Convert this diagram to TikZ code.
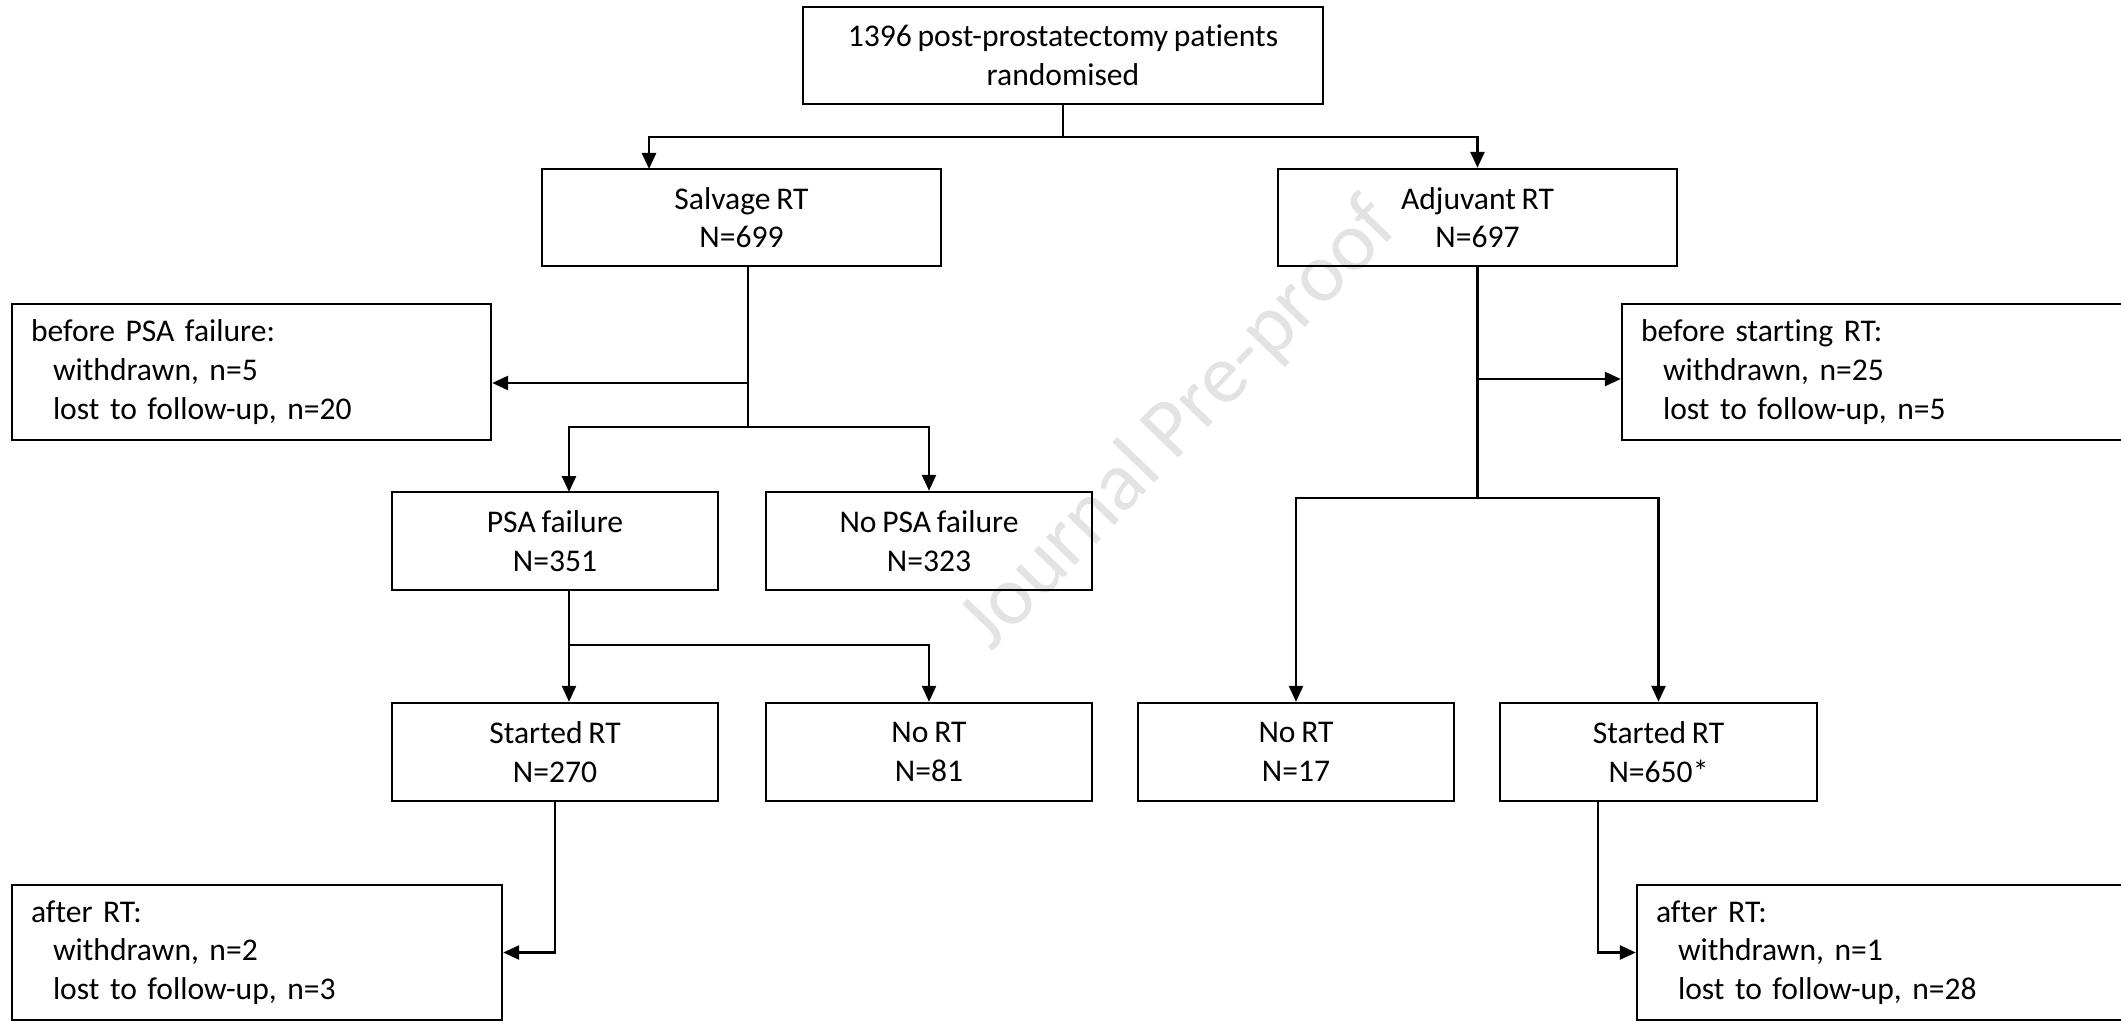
\documentclass[tikz,border=0pt]{standalone}
\usepackage{fontspec}
\setmainfont{Carlito}[RawFeature={-liga;-clig;-calt;-dlig},WordSpace=0.8]
\usetikzlibrary{arrows.meta,calc}
\begin{document}
\begin{tikzpicture}[x=1pt,y=-1pt,
  box/.style={draw,line width=2.4pt,rectangle,inner sep=0pt,align=center,
    font=\fontsize{31.6}{38.6}\selectfont},
  lbox/.style={box,align=left,inner xsep=19pt,inner ysep=0pt},
  conn/.style={line width=2.6pt},
  arr/.style={conn,-{Triangle[length=16pt,width=14pt]}},
  wmark/.style={rotate=46,text=black!11,font=\fontsize{84}{84}\selectfont}]
\useasboundingbox (0,0) rectangle (2121,1022);
\fill[white] (0,0) rectangle (2121,1022);

% watermark
\node[wmark] (wm) at (1180,425) {Journal Pre-proof};

% boxes
\node[box,minimum width=520pt,minimum height=97pt] (top) at (1063,55.5)
  {1396 post-prostatectomy patients\\randomised};
\node[box,minimum width=399pt,minimum height=97pt] (sal) at (741.5,217.5)
  {Salvage RT\\N=699};
\node[box,minimum width=399pt,minimum height=97pt] (adj) at (1477.5,217.5)
  {Adjuvant RT\\N=697};
\node[lbox,minimum width=479pt,text width=441pt,minimum height=136pt] (bpsa) at (251.5,372)
  {before PSA failure:\\\hspace*{22pt}withdrawn, n=5\\\hspace*{22pt}lost to follow-up, n=20};
\node[lbox,minimum width=518pt,text width=480pt,minimum height=136pt] (bsrt) at (1881,372)
  {before starting RT:\\\hspace*{22pt}withdrawn, n=25\\\hspace*{22pt}lost to follow-up, n=5};
\node[box,minimum width=326pt,minimum height=98pt] (psaf) at (555,541)
  {PSA failure\\N=351};
\node[box,minimum width=326pt,minimum height=98pt] (nopsa) at (929,541)
  {No PSA failure\\N=323};
\node[box,minimum width=326pt,minimum height=98pt] (srtL) at (555,752)
  {Started RT\\N=270};
\node[box,minimum width=326pt,minimum height=98pt] (norL) at (929,752)
  {No RT\\N=81};
\node[box,minimum width=316pt,minimum height=98pt] (norR) at (1296,752)
  {No RT\\N=17};
\node[box,minimum width=317pt,minimum height=98pt] (srtR) at (1658.5,752)
  {Started RT\\N=650*};
\node[lbox,minimum width=490pt,text width=452pt,minimum height=135pt] (arL) at (257,952.5)
  {after RT:\\\hspace*{22pt}withdrawn, n=2\\\hspace*{22pt}lost to follow-up, n=3};
\node[lbox,minimum width=503pt,text width=465pt,minimum height=135pt] (arR) at (1888.5,952.5)
  {after RT:\\\hspace*{22pt}withdrawn, n=1\\\hspace*{22pt}lost to follow-up, n=28};

% junction coordinates
\coordinate (j0) at (1063,137);
\coordinate (salin) at (649,169);
\coordinate (s0) at (748,266);
\coordinate (s1) at (748,383);
\coordinate (j1) at (748,427);
\coordinate (psain) at (569,492);
\coordinate (p0) at (569,590);
\coordinate (j2) at (569,645);
\coordinate (a1) at (1477.5,379);
\coordinate (j3) at (1477.5,498);
\coordinate (r0) at (1598,801);

% connectors
\draw[conn] (top.south) -- (j0);
\draw[arr] (j0) -| (salin);
\draw[arr] (j0) -| (adj.north);

\draw[conn] (s0) -- (j1);
\draw[arr] (s1) -- (s1 -| bpsa.east);
\draw[arr] (j1) -| (psain);
\draw[arr] (j1) -| (nopsa.north);

\draw[conn] (p0) -- (j2);
\draw[arr] (j2) -- (j2 |- srtL.north);
\draw[arr] (j2) -| (norL.north);

\draw[arr] (srtL.south) |- (arL.east);

\draw[conn] (adj.south) -- (j3);
\draw[arr] (a1) -- (a1 -| bsrt.west);
\draw[arr] (j3) -| (norR.north);
\draw[arr] (j3) -| (srtR.north);

\draw[arr] (r0) |- (arR.west);
\end{tikzpicture}
\end{document}
